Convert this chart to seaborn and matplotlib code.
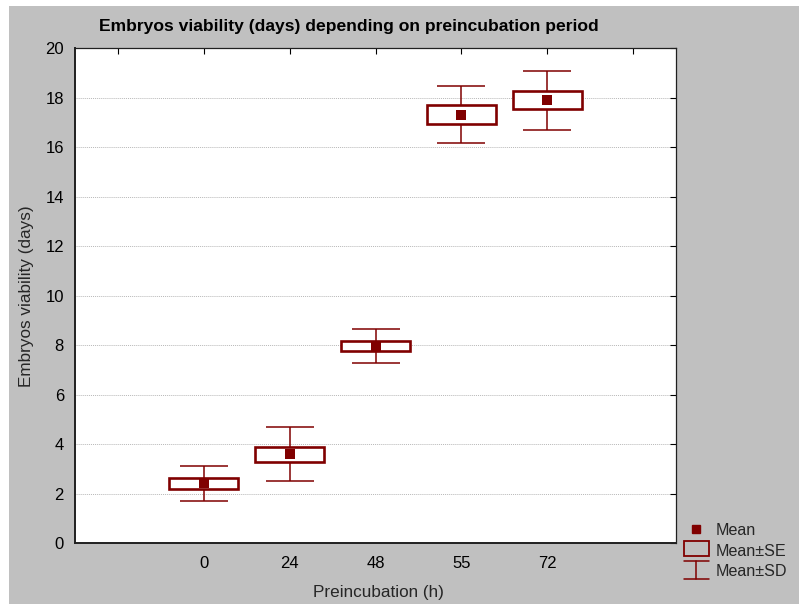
import matplotlib
matplotlib.use("Agg")
import matplotlib.pyplot as plt
import seaborn as sns
import numpy as np
import pandas as pd
from matplotlib.lines import Line2D
from matplotlib.patches import Rectangle
from matplotlib.legend_handler import HandlerBase

# ---- data ----
categories = ["0", "24", "48", "55", "72"]
means = [2.42, 3.60, 7.97, 17.32, 17.90]
se = [0.21, 0.31, 0.19, 0.37, 0.36]
sd = [0.70, 1.08, 0.67, 1.16, 1.20]
tick_labels = [""] + categories + [""]

title = "Embryos viability (days) depending on preincubation period"
xlabel = "Preincubation (h)"
ylabel = "Embryos viability (days)"

sns.set_style("white")
plt.rcParams['font.family'] = ['Liberation Sans', 'DejaVu Sans']

red = "#800000"
W, H = 799, 604
fig = plt.figure(figsize=(W / 100, H / 100), dpi=100, facecolor="white")
fig.patches.append(Rectangle((9 / W, 0), 1 - 9 / W, 1 - 6 / H, transform=fig.transFigure,
                             facecolor="#c0c0c0", edgecolor="none", zorder=-10))

ax = fig.add_axes([75 / W, 1 - 543.3 / H, (676 - 75) / W, (543.3 - 48.3) / H])
ax.set_facecolor("white")

df = pd.DataFrame({"cat": categories, "mean": means, "se": se, "sd": sd})
df["pos"] = np.arange(1, len(categories) + 1)

# SD whiskers
ax.errorbar(df["pos"], df["mean"], yerr=df["sd"], fmt="none", ecolor=red,
            elinewidth=1.1, capsize=17.3, capthick=1.1, zorder=2)
# SE boxes
ax.bar(df["pos"], 2 * df["se"], bottom=df["mean"] - df["se"], width=0.8,
       color="white", edgecolor=red, linewidth=1.9, zorder=3)
# Means
sns.scatterplot(data=df, x="pos", y="mean", marker="s", s=46, color=red,
                edgecolor=red, linewidth=0, ax=ax, zorder=4, legend=False)

ax.set_xlim(-0.5, 6.5)
ax.set_ylim(0, 20)
ax.set_xticks(range(7))
ax.set_xticklabels(tick_labels)
ax.set_yticks(range(0, 21, 2))
ax.tick_params(axis="both", direction="in", length=4, width=0.8, labelsize=12,
               top=True, right=True, colors="black")
ax.tick_params(axis="y", pad=8)
ax.tick_params(axis="x", pad=9)
ax.yaxis.grid(True, linestyle=(0, (1, 1)), color="#b8b8b8", linewidth=0.7)
ax.set_axisbelow(True)
for s in ["left", "bottom"]:
    ax.spines[s].set_linewidth(1.4)
    ax.spines[s].set_color("#202020")
for s in ["top", "right"]:
    ax.spines[s].set_linewidth(0.9)
    ax.spines[s].set_color("#202020")
ax.set_xlabel("")
ax.set_ylabel("")

fig.text(349 / W, 1 - 27 / H, title, ha="center", va="center", fontsize=12.6,
         fontweight="bold", color="black")
fig.text(378 / W, 1 - 592 / H, xlabel, ha="center", va="center", fontsize=12.3)
fig.text(27 / W, 1 - 296 / H, ylabel, ha="center", va="center", fontsize=12.3,
         rotation=90)


class SDHandler(HandlerBase):
    def create_artists(self, legend, orig_handle, xd, yd, width, height, fontsize, trans):
        x0, x1 = xd - 0, xd + width
        xm = (x0 + x1) / 2
        top = yd + height + 1
        bot = yd - 3
        l1 = Line2D([x0, x1], [top, top], color=red, lw=1.1, transform=trans)
        l2 = Line2D([x0, x1], [bot, bot], color=red, lw=1.1, transform=trans)
        l3 = Line2D([xm, xm], [bot, top], color=red, lw=1.1, transform=trans)
        return [l1, l2, l3]


class SEHandler(HandlerBase):
    def create_artists(self, legend, orig_handle, xd, yd, width, height, fontsize, trans):
        r = Rectangle((xd, yd - 1), width, height + 2, facecolor="none",
                      edgecolor=red, lw=1.3, transform=trans)
        return [r]


class SDProxy:
    pass


class SEProxy:
    pass


h_mean = Line2D([], [], marker="s", color=red, linestyle="none", markersize=6)
leg = fig.legend([h_mean, SEProxy(), SDProxy()], ["Mean", "Mean±SE", "Mean±SD"],
                 handler_map={SDProxy: SDHandler(), SEProxy: SEHandler()},
                 loc="center left", bbox_to_anchor=(684 / W, 1 - 551 / H),
                 frameon=False, fontsize=11.6, handlelength=1.55, handletextpad=0.4,
                 labelspacing=0.32, borderpad=0.0, borderaxespad=0.0,
                 handleheight=0.8)

fig.savefig("out.png", dpi=100, facecolor=fig.get_facecolor())
